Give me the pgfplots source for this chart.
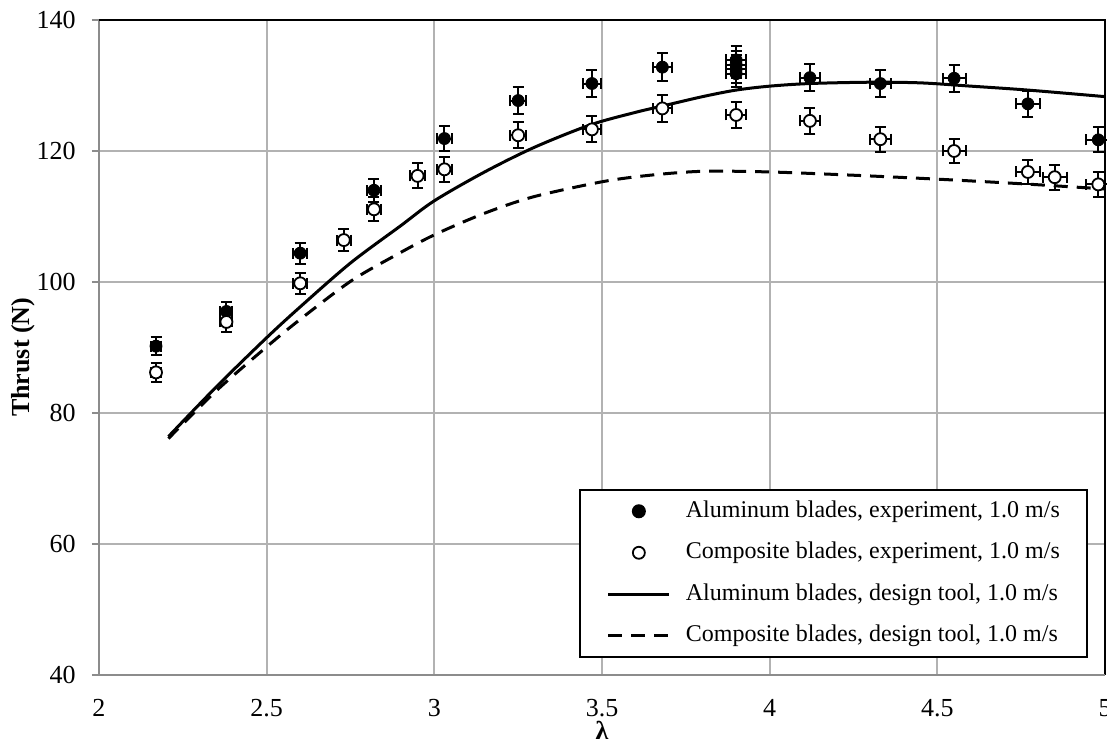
\documentclass[border=0pt]{standalone}
\usepackage{fontspec}
\setmainfont{Liberation Serif}
\usepackage{pgfplots}
\pgfplotsset{compat=1.18}
\usepackage{pgfplotstable}

\definecolor{gridgray}{RGB}{178,178,178}
\definecolor{axisgray}{RGB}{140,140,140}

% legend images 30.5pt wide: a single centred mark, or a line
\pgfplotsset{
  markleg/.style={legend image code/.code={\draw[mark repeat=2,mark phase=2,##1] plot coordinates {(0pt,0pt)(15.25pt,0pt)(30.5pt,0pt)};}},
  lineleg/.style={legend image code/.code={\draw[##1] (0pt,0pt) -- (30.5pt,0pt);}},
}

% Aluminum blades, experiment: lambda, thrust, x error, y error
\pgfplotstableread{
x     y      ex     ey
2.17  90.2   0.016  1.4
2.38  95.5   0.018  1.5
2.60  104.4  0.020  1.6
2.82  114.0  0.021  1.8
3.03  121.9  0.023  1.9
3.25  127.7  0.024  2.0
3.47  130.3  0.026  2.0
3.68  132.8  0.028  2.1
3.90  131.8  0.029  2.1
3.90  132.5  0.029  2.1
3.90  133.2  0.029  2.1
3.90  133.9  0.029  2.1
4.12  131.2  0.031  2.1
4.33  130.3  0.032  2.0
4.55  131.1  0.034  2.1
4.77  127.2  0.036  2.0
4.98  121.7  0.037  1.9
}\alumexp

% Composite blades, experiment
\pgfplotstableread{
x     y      ex     ey
2.17  86.2   0.016  1.4
2.38  93.9   0.018  1.5
2.60  99.8   0.020  1.6
2.73  106.4  0.020  1.7
2.82  111.1  0.021  1.8
2.95  116.2  0.022  1.9
3.03  117.2  0.023  1.9
3.25  122.4  0.024  2.0
3.47  123.3  0.026  2.0
3.68  126.5  0.028  2.0
3.90  125.5  0.029  2.0
4.12  124.6  0.031  2.0
4.33  121.8  0.032  1.9
4.55  120.0  0.034  1.9
4.77  116.8  0.036  1.9
4.85  116.0  0.036  1.9
4.98  114.9  0.037  1.9
}\compexp

\begin{document}
\begin{tikzpicture}
\begin{axis}[
  scale only axis, width=503pt, height=327.5pt,
  xmin=2, xmax=5, ymin=40, ymax=140,
  xtick={2,2.5,3,3.5,4,4.5,5},
  ytick={40,60,80,100,120,140},
  axis line style={draw=none},
  grid=major,
  major grid style={draw=gridgray, line width=1pt},
  xtick pos=bottom, ytick pos=left,
  xtick style={draw=none},
  ytick style={draw=axisgray, line width=1pt},
  tick align=outside, major tick length=3.5pt,
  /pgf/number format/assume math mode=true,
  ticklabel style={font=\fontsize{13}{15}\selectfont},
  yticklabel style={anchor=east, inner sep=0pt, xshift=-8pt},
  xticklabel style={anchor=north, inner sep=0pt, yshift=-8.3pt},
  every axis x label/.style={at={(rel axis cs:0.5,0)}, yshift=-23pt, anchor=north, inner sep=0pt},
  every axis y label/.style={at={(rel axis cs:0,0.485)}, xshift=-37.75pt, rotate=90, anchor=center, inner sep=0pt},
  label style={font=\bfseries\fontsize{13}{15}\selectfont},
  xlabel={λ},
  ylabel={Thrust (N)},
  clip=false,
  legend style={at={(rel axis cs:0.477,0.026)}, anchor=south west,
    draw=black, line width=1pt, fill=white,
    inner xsep=13.5pt, inner ysep=5.1pt,
    row sep=9.75pt, column sep=7.5pt,
    font=\fontsize{12}{14}\selectfont,
    nodes={inner sep=0pt, text height=8.5pt, text depth=2.5pt}},
  legend cell align=left,
  error bars/error bar style={line width=1pt, black},
  error bars/error mark options={rotate=90, line width=1pt, mark size=2.75pt, black},
]

% legend entries in display order
\addlegendimage{only marks, mark=*, mark size=3pt, black, markleg}
\addlegendentry{Aluminum blades, experiment, 1.0 m/s}
\addlegendimage{only marks, mark=*, mark size=3pt, black, line width=0.9pt, mark options={fill=white}, markleg}
\addlegendentry{Composite blades, experiment, 1.0 m/s}
\addlegendimage{black, line width=1.5pt, lineleg}
\addlegendentry{Aluminum blades, design tool, 1.0 m/s}
\addlegendimage{black, line width=1.5pt, dash pattern=on 7pt off 4.5pt, lineleg}
\addlegendentry{Composite blades, design tool, 1.0 m/s}

% design tool curves
\addplot[forget plot, black, line width=1.5pt, smooth] coordinates {
(2.207,76.4) (2.35,84.0) (2.5,91.5) (2.6,96.2) (2.75,102.9) (2.9,108.6)
(3.0,112.4) (3.15,116.8) (3.3,120.6) (3.466,124.0) (3.6,125.9) (3.683,126.9)
(3.8,128.3) (3.9,129.3) (4.0,129.9) (4.12,130.3) (4.3,130.5) (4.45,130.4)
(4.6,129.9) (4.77,129.3) (5.0,128.3)};
\addplot[forget plot, black, line width=1.5pt, dash pattern=on 7pt off 4.5pt, smooth] coordinates {
(2.207,76.1) (2.35,83.4) (2.5,90.1) (2.6,94.3) (2.75,100.1) (2.878,103.9)
(3.0,107.2) (3.15,110.5) (3.295,113.0) (3.5,115.3) (3.643,116.3) (3.8,116.9)
(4.0,116.8) (4.25,116.3) (4.5,115.7) (4.75,115.0) (5.0,114.2)};

% measurements with error bars
\addplot[forget plot, only marks, mark=*, mark size=3pt, black,
  error bars/.cd, x dir=both, x explicit, y dir=both, y explicit]
  table[x=x, y=y, x error=ex, y error=ey] {\alumexp};
\addplot[forget plot, only marks, mark=*, mark size=3pt, black, line width=0.9pt, mark options={fill=white},
  error bars/.cd, x dir=both, x explicit, y dir=both, y explicit]
  table[x=x, y=y, x error=ex, y error=ey] {\compexp};

% frame
\draw[axisgray, line width=1pt] (rel axis cs:0,0) -- (rel axis cs:0,1);
\draw[black, line width=0.8pt] (rel axis cs:0,1) -- (rel axis cs:1,1) -- (rel axis cs:1,0);
\draw[axisgray, line width=1.4pt] (rel axis cs:0,0) -- (rel axis cs:1,0);
\end{axis}
\pgfresetboundingbox
\useasboundingbox (-49.5pt,-31.5pt) rectangle (504pt,337.5pt);
\end{tikzpicture}
\end{document}
